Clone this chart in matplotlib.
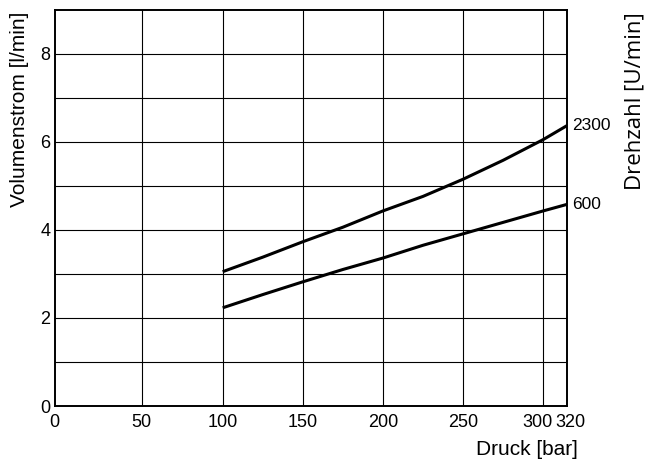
import numpy as np
import matplotlib
matplotlib.use("Agg")
import matplotlib.pyplot as plt
import matplotlib.transforms as mtransforms

plt.rcParams['font.family'] = ['Liberation Sans', 'DejaVu Sans']

# Data
druck = [100, 125, 150, 175, 200, 225, 250, 275, 300, 320]
vol_2300 = [3.05, 3.38, 3.73, 4.06, 4.43, 4.76, 5.15, 5.58, 6.05, 6.37]
vol_600 = [2.23, 2.53, 2.82, 3.10, 3.36, 3.65, 3.91, 4.17, 4.43, 4.58]
series_labels = ["2300", "600"]
x_ticks = [0, 50, 100, 150, 200, 250, 300, 320]
y_ticks = [0, 2, 4, 6, 8]

# Nonuniform axis of the original datasheet (piecewise-linear pressure scale)
_xp = np.array([-1000.0, 0, 50, 100, 300, 320, 1320])
_fp = np.array([-1740.0, 0, 87, 168, 488.6, 512.6, 1712.6])

def fwd(v):
    return np.interp(v, _xp, _fp)

def inv(v):
    return np.interp(v, _fp, _xp)

fig = plt.figure(figsize=(6.46, 4.61), dpi=100)
ax = fig.add_axes([0.0847, 0.1193, 0.878 - 0.0847, 0.979 - 0.1193])
ax.set_xscale('function', functions=(fwd, inv))
ax.set_xlim(0, 320)
ax.set_ylim(0, 9)

# grid
for gx in [50, 100, 150, 200, 250, 300]:
    ax.axvline(gx, color='black', lw=0.8, zorder=1)
for gy in range(1, 9):
    ax.axhline(gy, color='black', lw=0.8, zorder=1)

ax.plot(druck, vol_2300, color='black', lw=2.2, zorder=3, solid_capstyle='butt')
ax.plot(druck, vol_600, color='black', lw=2.2, zorder=3, solid_capstyle='butt')

ax.text(1.01, vol_2300[-1], series_labels[0], transform=ax.get_yaxis_transform(),
        ha='left', va='center', fontsize=12.5)
ax.text(1.01, vol_600[-1], series_labels[1], transform=ax.get_yaxis_transform(),
        ha='left', va='center', fontsize=12.5)

ax.set_xticks(x_ticks)
ax.set_xticklabels([str(t) for t in x_ticks])
ax.set_yticks(y_ticks)
ax.set_yticklabels([str(t) for t in y_ticks])
ax.xaxis.set_minor_locator(matplotlib.ticker.NullLocator())
ax.tick_params(axis='both', length=0, labelsize=13)
ax.tick_params(axis='x', pad=6)
ax.tick_params(axis='y', pad=3)

# nudge the crowded last two x labels apart, as in the original
labels = ax.get_xticklabels()
shifts = {"300": -5.5, "320": 3.0}
for lab in labels:
    dx = shifts.get(lab.get_text())
    if dx is not None:
        lab.set_transform(lab.get_transform() +
                          mtransforms.ScaledTranslation(dx / 100, 0, fig.dpi_scale_trans))

for s in ax.spines.values():
    s.set_linewidth(1.4)
    s.set_color('black')

fig.text(20 / 646, 1 - 12 / 461, "Volumenstrom [l/min]", rotation=90,
         ha='center', va='top', fontsize=15)
fig.text(635 / 646, 1 - 12 / 461, "Drehzahl [U/min]", rotation=90,
         ha='center', va='top', fontsize=16,
         family=['Open Sans', 'DejaVu Sans'])
fig.text(578 / 646, 1 - 449 / 461, "Druck [bar]", ha='right', va='center',
         fontsize=15)

fig.savefig("out.png", dpi=100)
